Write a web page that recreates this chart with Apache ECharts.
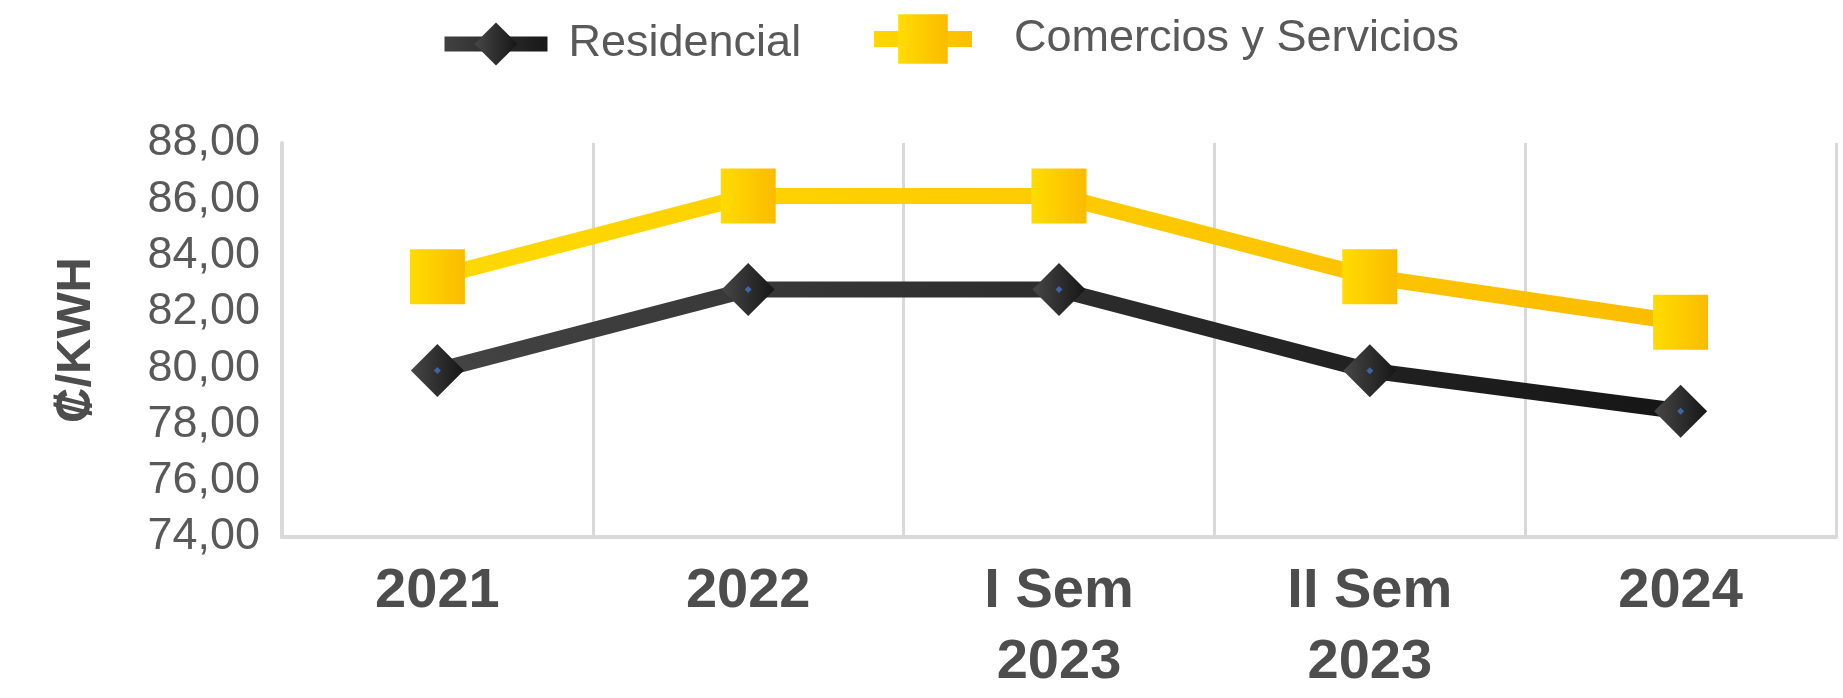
<!DOCTYPE html>
<html><head><meta charset="utf-8">
<script src="https://cdn.jsdelivr.net/npm/echarts@6/dist/echarts.min.js"></script>
<style>html,body{margin:0;padding:0;background:#fff;width:1843px;height:698px;overflow:hidden}#c{width:1843px;height:698px}</style>
</head><body><div id="c"></div>
<script>
const categories = ['2021', '2022', 'I Sem\n2023', 'II Sem\n2023', '2024'];
const residencial = [79.92, 82.79, 82.79, 79.91, 78.47];
const comercios = [83.25, 86.12, 86.12, 83.25, 81.63];
const seriesNames = ['Residencial', 'Comercios y Servicios'];
const yMin = 74, yMax = 88, yStep = 2;
const yName = '₡/KWH';

const FONT = '"Liberation Sans", Arial, Helvetica, sans-serif';
const G = echarts.graphic.LinearGradient;
const yellowFill = new G(0, 0, 1, 0, [{offset: 0, color: '#FFDC00'}, {offset: 1, color: '#FBBB00'}]);
const yellowLine = new G(0, 0, 1, 0, [{offset: 0, color: '#FFD900'}, {offset: 1, color: '#FBBC00'}]);
const darkFill = new G(0, 0, 1, 0, [{offset: 0, color: '#474747'}, {offset: 1, color: '#161616'}]);
const darkLine = new G(0, 0, 1, 0, [{offset: 0, color: '#444444'}, {offset: 1, color: '#151515'}]);

const chart = echarts.init(document.getElementById('c'), null, {renderer: 'canvas', width: 1843, height: 698});
chart.setOption({
  animation: false,
  backgroundColor: '#fff',
  grid: {left: 282, right: 7, top: 143, bottom: 153, containLabel: false},
  legend: [
    {data: [seriesNames[0]], left: 437, top: 17, padding: 0, itemWidth: 103, itemHeight: 54,
     lineStyle: {width: 15},
     textStyle: {fontFamily: FONT, fontSize: 45, color: '#595959', lineHeight: 54, padding: [0, 0, 0, 16]}},
    {data: [seriesNames[1]], left: 866, top: 8, padding: 0, itemWidth: 98, itemHeight: 62,
     lineStyle: {width: 16},
     textStyle: {fontFamily: FONT, fontSize: 45, color: '#595959', lineHeight: 62, padding: [0, 0, 0, 37]}}
  ],
  xAxis: {
    type: 'category', data: categories, boundaryGap: true,
    axisLine: {show: true, lineStyle: {color: '#D9D9D9', width: 4}},
    axisTick: {show: false},
    splitLine: {show: true, lineStyle: {color: '#D9D9D9', width: 3}},
    axisLabel: {interval: 0, fontFamily: FONT, fontSize: 56, fontWeight: 'bold', color: '#4D4D4D', lineHeight: 71, margin: 19}
  },
  yAxis: {
    type: 'value', min: yMin, max: yMax, interval: yStep,
    axisLine: {show: true, lineStyle: {color: '#D9D9D9', width: 4}},
    axisTick: {show: false},
    splitLine: {show: false},
    axisLabel: {fontFamily: FONT, fontSize: 45, color: '#595959', margin: 22,
      formatter: v => v.toFixed(2).replace('.', ',')},
    name: yName, nameLocation: 'middle', nameGap: 181,
    nameTextStyle: {fontFamily: FONT, fontSize: 49, fontWeight: 'bold', color: '#4D4D4D'}
  },
  series: [
    {name: seriesNames[1], type: 'line', data: comercios, symbol: 'rect', symbolSize: 55,
     lineStyle: {width: 16, color: yellowLine}, itemStyle: {color: yellowFill}, z: 2},
    {name: seriesNames[0], type: 'line', data: residencial, symbol: 'diamond', symbolSize: 53,
     lineStyle: {width: 16, color: darkLine}, itemStyle: {color: darkFill}, z: 3},
    {name: 'centro', type: 'scatter', data: residencial, symbol: 'diamond', symbolSize: 7,
     itemStyle: {color: '#4472C4'}, silent: true, z: 5}
  ]
});
</script></body></html>
